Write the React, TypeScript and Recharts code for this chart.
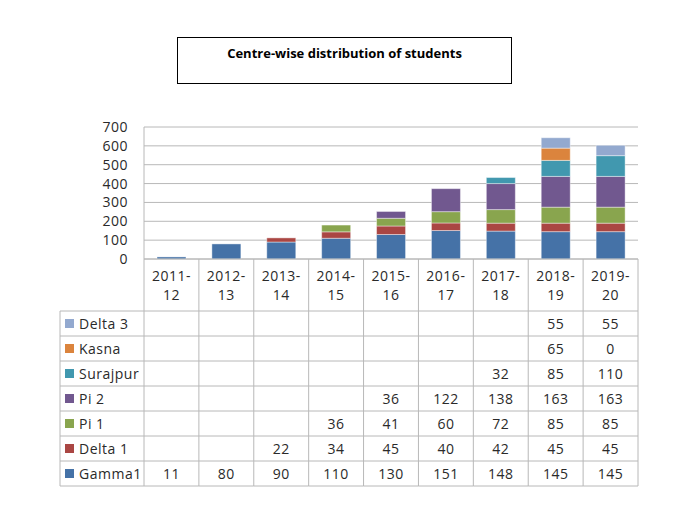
import React from "react";
import { Bar, BarChart, CartesianGrid, XAxis, YAxis } from "recharts";

const CATEGORIES = ["2011-12", "2012-13", "2013-14", "2014-15", "2015-16", "2016-17", "2017-18", "2018-19", "2019-20"];
const GAMMA1 = [11, 80, 90, 110, 130, 151, 148, 145, 145];
const DELTA1 = [null, null, 22, 34, 45, 40, 42, 45, 45];
const PI1 = [null, null, null, 36, 41, 60, 72, 85, 85];
const PI2 = [null, null, null, null, 36, 122, 138, 163, 163];
const SURAJPUR = [null, null, null, null, null, null, 32, 85, 110];
const KASNA = [null, null, null, null, null, null, null, 65, 0];
const DELTA3 = [null, null, null, null, null, null, null, 55, 55];
const Y_TICKS = [0, 100, 200, 300, 400, 500, 600, 700];

// bottom of stack first
const SERIES = [
  { key: "gamma1", name: "Gamma1", values: GAMMA1, color: "#4572A7" },
  { key: "delta1", name: "Delta 1", values: DELTA1, color: "#AA4643" },
  { key: "pi1", name: "Pi 1", values: PI1, color: "#89A54E" },
  { key: "pi2", name: "Pi 2", values: PI2, color: "#71588F" },
  { key: "surajpur", name: "Surajpur", values: SURAJPUR, color: "#4198AF" },
  { key: "kasna", name: "Kasna", values: KASNA, color: "#DB843D" },
  { key: "delta3", name: "Delta 3", values: DELTA3, color: "#93A9CF" },
];

const data = CATEGORIES.map((cat, i) => {
  const row: Record<string, string | number | null> = { cat };
  SERIES.forEach((s) => (row[s.key] = s.values[i]));
  return row;
});

const FONT = "'Open Sans', sans-serif";
const LINE = "#b8b8b8";
const TEXT = "#2a2a2a";
const BAND = 494 / CATEGORIES.length;
const HEADER_H = 52;
const ROW_H = 25;
const LEGEND_W = 84;
const TABLE_ROWS = [...SERIES].reverse();
const TXT = { fontFamily: FONT, fontSize: 14, fill: TEXT, letterSpacing: 0.5 };

function TableColumn(props: any) {
  const { x, y, payload } = props;
  const idx = CATEGORIES.indexOf(payload.value);
  const left = x - BAND / 2;
  const right = x + BAND / 2;
  const bottom = y + HEADER_H + ROW_H * TABLE_ROWS.length;
  const [l1, l2] = String(payload.value).split("-");
  return (
    <g>
      <line x1={left} x2={left} y1={y} y2={bottom} stroke={LINE} />
      {idx === CATEGORIES.length - 1 && (
        <line x1={right} x2={right} y1={y} y2={bottom} stroke={LINE} />
      )}
      <text x={x} y={y + 22} textAnchor="middle" {...TXT}>{l1 + "-"}</text>
      <text x={x} y={y + 41} textAnchor="middle" {...TXT}>{l2}</text>
      {TABLE_ROWS.map((s, r) => {
        const top = y + HEADER_H + r * ROW_H;
        const v = s.values[idx];
        return (
          <g key={s.key}>
            <line x1={left} x2={right} y1={top} y2={top} stroke={LINE} />
            {v !== null && (
              <text x={x} y={top + 18} textAnchor="middle" {...TXT}>{v}</text>
            )}
          </g>
        );
      })}
      <line x1={left} x2={right} y1={bottom} y2={bottom} stroke={LINE} />
      {idx === 0 && (
        <g>
          <line x1={left - LEGEND_W} x2={left - LEGEND_W} y1={y + HEADER_H} y2={bottom} stroke={LINE} />
          {TABLE_ROWS.map((s, r) => {
            const top = y + HEADER_H + r * ROW_H;
            return (
              <g key={s.key}>
                <line x1={left - LEGEND_W} x2={left} y1={top} y2={top} stroke={LINE} />
                <rect x={left - LEGEND_W + 5} y={top + 8} width={9} height={9} fill={s.color} />
                <text x={left - LEGEND_W + 19} y={top + 18} {...TXT}>{s.name}</text>
              </g>
            );
          })}
          <line x1={left - LEGEND_W} x2={left} y1={bottom} y2={bottom} stroke={LINE} />
        </g>
      )}
    </g>
  );
}

export default function App() {
  return (
    <div style={{ position: "absolute", left: 0, top: 0, width: 679, height: 510, background: "#fff" }}>
      <div
        style={{
          position: "absolute",
          left: 177,
          top: 37,
          width: 335,
          height: 47,
          boxSizing: "border-box",
          border: "1px solid #000",
          textAlign: "center",
          fontFamily: FONT,
          fontWeight: 700,
          fontSize: 13,
          lineHeight: "16px",
          paddingTop: 7,
          color: "#000",
        }}
      >
        Centre-wise distribution of students
      </div>
      <BarChart
        width={679}
        height={510}
        data={data}
        margin={{ top: 127, right: 41, left: 84, bottom: 0 }}
        barSize={29}
        style={{ fontFamily: FONT }}
      >
        <CartesianGrid vertical={false} stroke={LINE} />
        <YAxis
          width={60}
          domain={[0, 700]}
          ticks={Y_TICKS}
          interval={0}
          axisLine={{ stroke: LINE }}
          tickLine={false}
          tickMargin={10}
          tick={{ ...TXT }}
        />
        <XAxis
          dataKey="cat"
          height={251}
          interval={0}
          tickLine={false}
          tickSize={0}
          tickMargin={0}
          axisLine={{ stroke: LINE }}
          tick={(p: any) => <TableColumn {...p} />}
        />
        {SERIES.map((s) => (
          <Bar
            key={s.key}
            dataKey={s.key}
            name={s.name}
            stackId="a"
            fill={s.color}
            stroke="#ffffff"
            strokeOpacity={0.6}
            strokeWidth={0.7}
            isAnimationActive={false}
          />
        ))}
      </BarChart>
    </div>
  );
}
